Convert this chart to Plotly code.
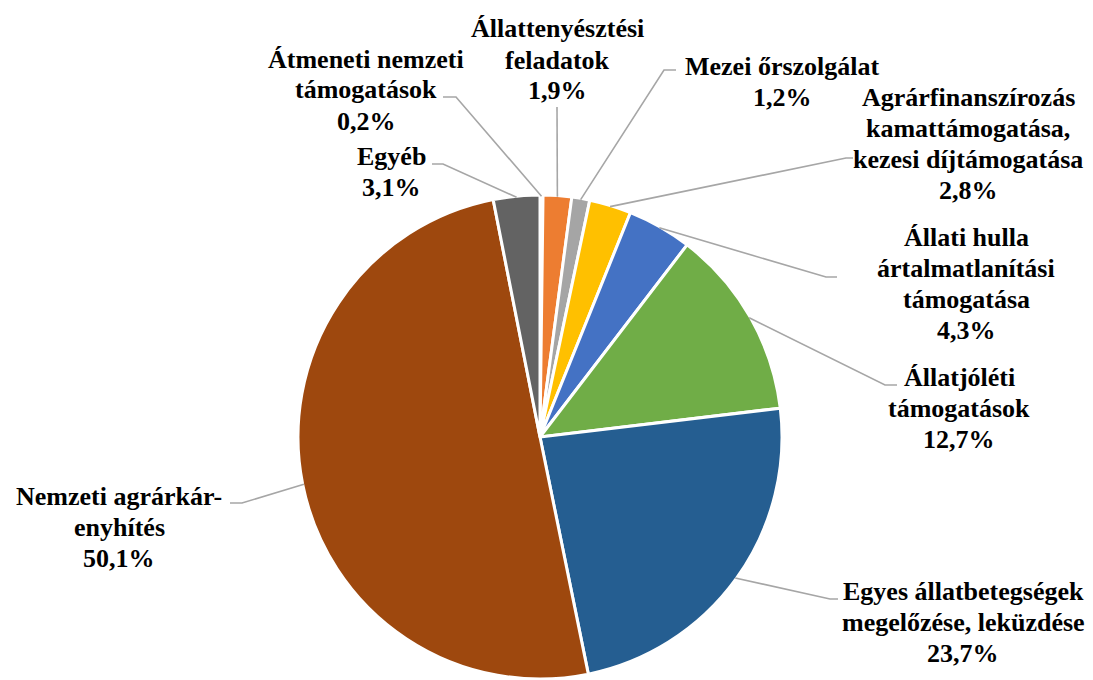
import math
import plotly.graph_objects as go

# ---- data ----
categories = [
    "Átmeneti nemzeti támogatások",
    "Állattenyésztési feladatok",
    "Mezei őrszolgálat",
    "Agrárfinanszírozás kamattámogatása, kezesi díjtámogatása",
    "Állati hulla ártalmatlanítási támogatása",
    "Állatjóléti támogatások",
    "Egyes állatbetegségek megelőzése, leküzdése",
    "Nemzeti agrárkár-enyhítés",
    "Egyéb",
]
values = [0.2, 1.9, 1.2, 2.8, 4.3, 12.7, 23.7, 50.1, 3.1]
label_lines = [
    ["Átmeneti nemzeti", "támogatások"],
    ["Állattenyésztési", "feladatok"],
    ["Mezei őrszolgálat"],
    ["Agrárfinanszírozás", "kamattámogatása,", "kezesi díjtámogatása"],
    ["Állati hulla", "ártalmatlanítási", "támogatása"],
    ["Állatjóléti", "támogatások"],
    ["Egyes állatbetegségek", "megelőzése, leküzdése"],
    ["Nemzeti agrárkár-", "enyhítés"],
    ["Egyéb"],
]

# ---- styles / layout ----
colors = ["#5B9BD5", "#ED7D31", "#A5A5A5", "#FFC000", "#4472C4",
          "#70AD47", "#255E91", "#9E480E", "#636363"]
W, H = 1093, 680
CX, CY, R = 540, 437, 242
FONT = "'Times New Roman', 'Liberation Serif', serif"
FONT_SIZE = 26
LINE_H = 31
# label block centres (px)
label_pos = [(366, 90), (557, 60), (782, 82), (968, 144), (966, 284),
             (959, 408), (963, 622), (119, 527), (391, 172)]
# leader line: text-side start and elbow (px)
leader_pts = [((443, 97), (456, 97)),
              ((557, 107), (557, 107)),
              ((676, 70), (664, 70)),
              ((853, 158), (846, 158)),
              ((837, 277), (826, 277)),
              ((897, 385), (885, 385)),
              ((838, 599), (830, 599)),
              ((230, 503), (242, 503)),
              ((432, 164), (443, 164))]

def px(x):
    return x / W

def py(y):
    return 1 - y / H

fig = go.Figure()
fig.add_trace(go.Pie(
    labels=categories, values=values, sort=False, direction="clockwise",
    rotation=0, textinfo="none", hoverinfo="skip",
    marker=dict(colors=colors, line=dict(color="white", width=3)),
    domain=dict(x=[px(CX - R), px(CX + R)], y=[py(CY + R), py(CY - R)]),
    showlegend=False,
))

total = sum(values)
cum = 0
shapes = []
annotations = []
for i, v in enumerate(values):
    mid = (cum + v / 2) / total * 2 * math.pi
    cum += v
    ex = CX + R * 0.995 * math.sin(mid)
    ey = CY - R * 0.995 * math.cos(mid)
    (sx, sy), (bx, by) = leader_pts[i]
    path = f"M {px(sx)} {py(sy)} L {px(bx)} {py(by)} L {px(ex)} {py(ey)}"
    shapes.append(dict(type="path", path=path, xref="paper", yref="paper",
                       line=dict(color="#A6A6A6", width=1.6)))
    pct = f"{v:.1f}".replace(".", ",") + "%"
    lines = label_lines[i] + [pct]
    lx, ly = label_pos[i]
    n = len(lines)
    for k, line in enumerate(lines):
        yy = ly + (k - (n - 1) / 2) * LINE_H
        annotations.append(dict(x=px(lx), y=py(yy), xref="paper", yref="paper",
                                text=line, showarrow=False, xanchor="center",
                                yanchor="middle", align="center",
                                font=dict(family=FONT, size=FONT_SIZE,
                                          color="black", weight="bold")))

fig.update_layout(
    width=W, height=H, margin=dict(l=0, r=0, t=0, b=0),
    paper_bgcolor="white", plot_bgcolor="white",
    font=dict(family=FONT),
    shapes=shapes, annotations=annotations,
)
fig.write_html("out.html", config={"displayModeBar": False},
               post_script="document.body.style.margin='0';"
                           "document.body.style.overflow='hidden';")
